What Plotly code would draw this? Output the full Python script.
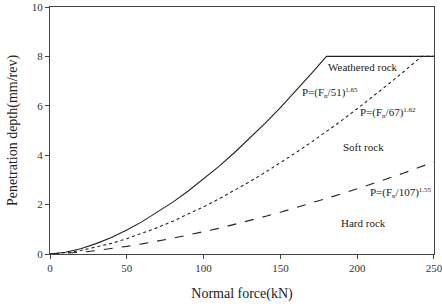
import plotly.graph_objects as go

force = [0, 10, 20, 30, 40, 50, 60, 70, 80, 90, 100, 110, 120, 130, 140, 150, 160, 170, 180, 190, 200, 210, 220, 230, 240, 250]

weathered_x = [0, 10, 20, 30, 40, 50, 60, 70, 80, 90, 100, 110, 120, 130, 140, 150, 160, 170, 180, 250]
weathered_y = [0, 0.07, 0.21, 0.42, 0.67, 0.97, 1.31, 1.69, 2.10, 2.55, 3.04, 3.55, 4.10, 4.68, 5.29, 5.93, 6.60, 7.29, 8.0, 8.0]

soft_x = [0, 10, 20, 30, 40, 50, 60, 70, 80, 90, 100, 110, 120, 130, 140, 150, 160, 170, 180, 190, 200, 210, 220, 230, 240, 242, 250]
soft_y = [0, 0.05, 0.14, 0.27, 0.43, 0.62, 0.84, 1.07, 1.33, 1.61, 1.91, 2.23, 2.57, 2.93, 3.30, 3.69, 4.10, 4.52, 4.96, 5.41, 5.88, 6.36, 6.86, 7.37, 7.90, 8.0, 8.0]

hard_y = [0, 0.03, 0.07, 0.14, 0.22, 0.31, 0.41, 0.52, 0.64, 0.77, 0.90, 1.04, 1.20, 1.35, 1.52, 1.69, 1.87, 2.05, 2.24, 2.44, 2.64, 2.84, 3.06, 3.27, 3.50, 3.73]

x_ticks = [0, 50, 100, 150, 200, 250]
y_ticks = [0, 2, 4, 6, 8, 10]

SM = '<span style="font-size:10px">'
labels = ["Weathered rock",
          "P=(F" + SM + "<sub>n</sub></span>/51)" + SM + "<sup>1.65</sup></span>",
          "P=(F" + SM + "<sub>n</sub></span>/67)" + SM + "<sup>1.62</sup></span>",
          "Soft rock",
          "P=(F" + SM + "<sub>n</sub></span>/107)" + SM + "<sup>1.55</sup></span>",
          "Hard rock"]
label_x = [204, 182, 220, 204, 228.5, 204]
label_y = [7.57, 6.52, 5.71, 4.33, 2.47, 1.26]

FONT = "Liberation Serif"
INK = "#222222"

fig = go.Figure()
fig.add_trace(go.Scatter(x=weathered_x, y=weathered_y, mode="lines",
                         line=dict(color=INK, width=1.1, dash="solid")))
fig.add_trace(go.Scatter(x=soft_x, y=soft_y, mode="lines",
                         line=dict(color=INK, width=1.1, dash="dot")))
fig.add_trace(go.Scatter(x=force, y=hard_y, mode="lines",
                         line=dict(color=INK, width=1.1, dash="dash")))

for t, x, y in zip(labels, label_x, label_y):
    fig.add_annotation(x=x, y=y, text=t, showarrow=False,
                       font=dict(family=FONT, size=11, color=INK))

fig.update_layout(
    width=442, height=306,
    margin=dict(l=50, r=8, t=7, b=52),
    paper_bgcolor="white", plot_bgcolor="white",
    showlegend=False,
    font=dict(family=FONT, color=INK),
)
fig.update_xaxes(range=[0, 250.01], tickvals=x_ticks, ticks="outside", ticklen=4, tickwidth=1,
                 tickcolor="#444", showline=True, linecolor="#444", linewidth=1, mirror=True,
                 showgrid=False, zeroline=False, ticklabeloverflow="allow", automargin=False,
                 tickfont=dict(family=FONT, size=11, color="#333"),
                 title=dict(text="Normal force(kN)", font=dict(family=FONT, size=14, color=INK), standoff=14))
fig.update_yaxes(range=[0, 10.001], tickvals=y_ticks, ticks="outside", ticklen=4, tickwidth=1,
                 tickcolor="#444", showline=True, linecolor="#444", linewidth=1, mirror=True,
                 showgrid=False, zeroline=False, ticklabeloverflow="allow", automargin=False,
                 tickfont=dict(family=FONT, size=11, color="#333"),
                 title=dict(text="Penetration depth(mm/rev)", font=dict(family=FONT, size=14, color=INK), standoff=10))

fig.write_html("out.html")
